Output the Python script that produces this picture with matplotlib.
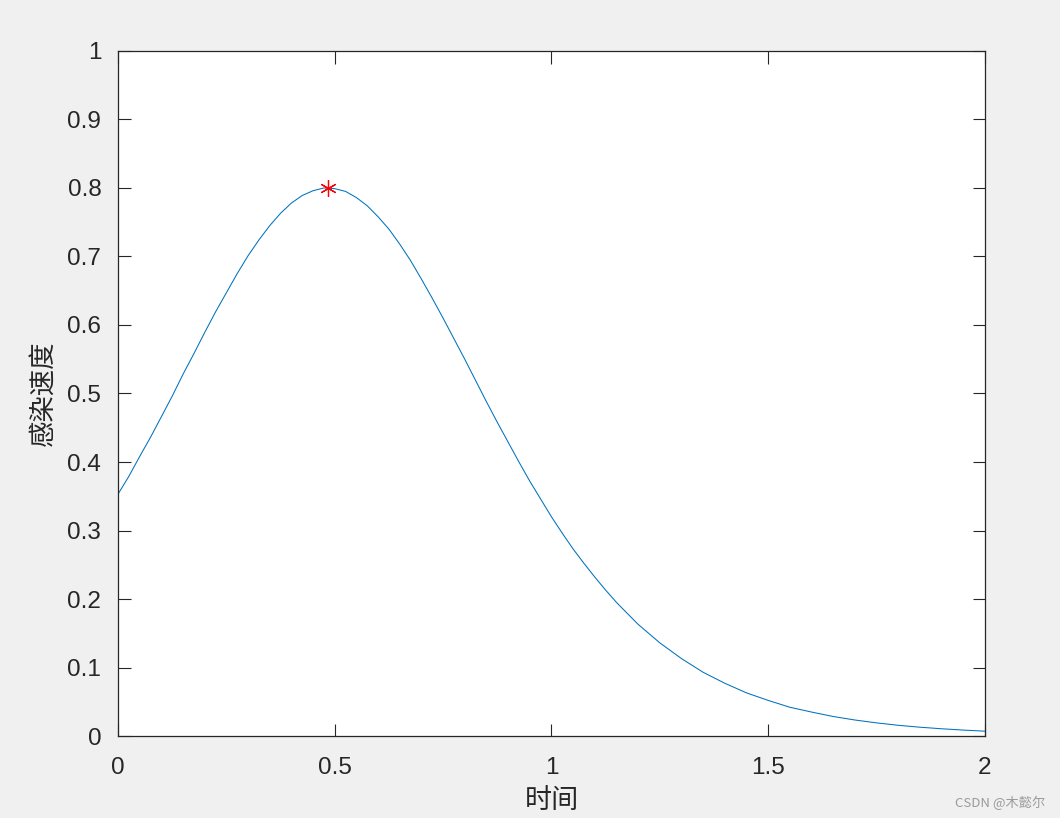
import numpy as np
import matplotlib
matplotlib.use("Agg")
import matplotlib.pyplot as plt

##### data #####
t = [0.000, 0.025, 0.050, 0.075, 0.100, 0.125, 0.150, 0.175, 0.200, 0.225,
     0.250, 0.275, 0.300, 0.325, 0.350, 0.375, 0.400, 0.425, 0.450, 0.475,
     0.500, 0.525, 0.550, 0.575, 0.600, 0.625, 0.650, 0.675, 0.700, 0.725,
     0.750, 0.775, 0.800, 0.825, 0.850, 0.875, 0.900, 0.925, 0.950, 0.975,
     1.000, 1.025, 1.050, 1.075, 1.100, 1.125, 1.150, 1.175, 1.200,
     1.25, 1.30, 1.35, 1.40, 1.45, 1.50, 1.55, 1.60, 1.65, 1.70,
     1.75, 1.80, 1.85, 1.90, 1.95, 2.00]
speed = [0.353, 0.379, 0.408, 0.436, 0.466, 0.496, 0.528, 0.558, 0.589, 0.619,
         0.647, 0.675, 0.701, 0.724, 0.745, 0.763, 0.778, 0.789, 0.796, 0.800,
         0.799, 0.795, 0.786, 0.774, 0.758, 0.740, 0.718, 0.694, 0.667, 0.639,
         0.610, 0.580, 0.550, 0.519, 0.488, 0.458, 0.429, 0.400, 0.372, 0.346,
         0.320, 0.296, 0.273, 0.252, 0.232, 0.213, 0.195, 0.179, 0.163,
         0.136, 0.113, 0.093, 0.077, 0.063, 0.052, 0.042, 0.035, 0.0285, 0.0234,
         0.0192, 0.0157, 0.0129, 0.0106, 0.0087, 0.0071]
peak_t = 0.484
peak_v = 0.800
xticks = [0, 0.5, 1, 1.5, 2]
xticklabels = ["0", "0.5", "1", "1.5", "2"]
yticks = [0, 0.1, 0.2, 0.3, 0.4, 0.5, 0.6, 0.7, 0.8, 0.9, 1]
yticklabels = ["0", "0.1", "0.2", "0.3", "0.4", "0.5", "0.6", "0.7", "0.8", "0.9", "1"]
xlabel = "时间"
ylabel = "感染速度"
watermark = "CSDN @木懿尔"
##### end data #####

cjk = ["Noto Sans CJK SC", "DejaVu Sans"]
tick_font = "Liberation Sans"

fig = plt.figure(figsize=(10.6, 8.18), dpi=100, facecolor="#f0f0f0")
ax = fig.add_axes([0.1113, 0.1002, 0.8179, 0.8375])
ax.set_facecolor("white")

ax.plot(t, speed, color="#0072BD", lw=0.75)
# matlab '*' marker: 6-spoke asterisk
ax.plot([peak_t], [peak_v], marker=(6, 2, 0), color="red", ms=12, mew=0.9,
        linestyle="none")

ax.set_xlim(0, 2)
ax.set_ylim(0, 1)
ax.set_xticks(xticks)
ax.set_xticklabels(xticklabels, fontfamily=tick_font, fontsize=17.5)
ax.set_yticks(yticks)
ax.set_yticklabels(yticklabels, fontfamily=tick_font, fontsize=17.5)
ax.tick_params(direction="in", length=9, width=0.8, colors="#262626",
               top=True, right=True)
ax.tick_params(axis="x", pad=15)
ax.tick_params(axis="y", pad=12)
for s in ax.spines.values():
    s.set_color("#262626")
    s.set_linewidth(0.9)

ax.set_xlabel(xlabel, family=cjk, fontsize=19.5, color="#262626", labelpad=6)
ax.set_ylabel(ylabel, family=cjk, fontsize=19, color="#262626", labelpad=7)

fig.text(0.986, 0.019, watermark, family=cjk, fontsize=9.5, color="#9a9a9a",
         ha="right", va="center")

fig.savefig("out.png", dpi=100, facecolor=fig.get_facecolor())
